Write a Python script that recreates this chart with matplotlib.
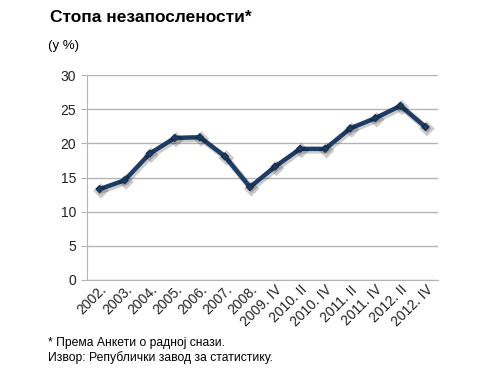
import matplotlib
matplotlib.use("Agg")
import matplotlib.pyplot as plt
import matplotlib.patheffects as pe

plt.rcParams['font.family'] = ['Liberation Sans', 'DejaVu Sans']

# data
periods = ["2002.", "2003.", "2004.", "2005.", "2006.", "2007.", "2008.",
           "2009. IV", "2010. II", "2010. IV", "2011. II", "2011. IV",
           "2012. II", "2012. IV"]
rate = [13.3, 14.6, 18.5, 20.8, 20.9, 18.1, 13.6, 16.6, 19.2, 19.2,
        22.2, 23.7, 25.5, 22.4]
y_ticks = [0, 5, 10, 15, 20, 25, 30]

fig = plt.figure(figsize=(4.9, 3.87), dpi=100)
ax = fig.add_axes([0.1776, 0.2765, 0.7164, 0.5295])

x = list(range(len(periods)))
ax.plot(x, rate, color='#1f3c66', lw=3.2, marker='D', ms=3.5,
        mfc='#1f3c66', mec='#16304f', solid_joinstyle='miter', zorder=3,
        path_effects=[pe.SimpleLineShadow(offset=(1, -1.2), alpha=0.2,
                                          shadow_color='black', linewidth=4.5),
                      pe.Normal()])

ax.set_xlim(-0.5, len(periods) - 0.5)
ax.set_ylim(0, 30)
ax.set_yticks(y_ticks)
ax.yaxis.grid(True, color='#b4b4b4', lw=1)
ax.set_axisbelow(True)

for s in ['top', 'right']:
    ax.spines[s].set_visible(False)
ax.spines['left'].set_color('#b4b4b4')
ax.spines['bottom'].set_color('#b4b4b4')

ax.tick_params(axis='y', length=4, color='#b4b4b4', labelsize=10,
               labelcolor='#222222', pad=4)
ax.tick_params(axis='x', length=0, labelsize=10, labelcolor='#222222', pad=2)
ax.set_xticks(x)
ax.set_xticklabels(periods, rotation=45, ha='right', va='top',
                   rotation_mode='anchor')

fig.text(50 / 490, 1 - 18 / 387, "Стопа незапослености*", fontsize=12.5,
         fontweight='bold', va='center', ha='left')
fig.text(48 / 490, 1 - 46 / 387, "(у %)", fontsize=9.5, va='center', ha='left')
fig.text(48 / 490, 1 - 343 / 387, "* Према Анкети о радној снази.",
         fontsize=8.7, va='center', ha='left')
fig.text(48 / 490, 1 - 358 / 387, "Извор: Републички завод за статистику.",
         fontsize=8.7, va='center', ha='left')

fig.savefig("out.png", dpi=100, facecolor='white')
